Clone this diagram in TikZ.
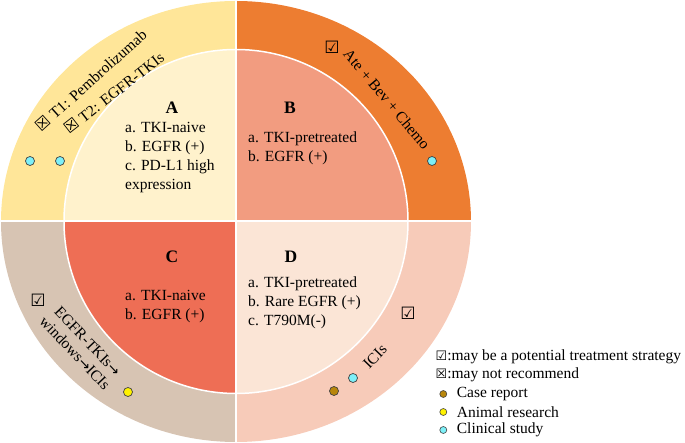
\documentclass[tikz,border=0pt]{standalone}
\usepackage{fontspec}
\setmainfont{Liberation Serif}
\newfontfamily\symfont{DejaVu Sans}
\definecolor{ringA}{HTML}{FFE699}
\definecolor{innA}{HTML}{FFF2CC}
\definecolor{ringB}{HTML}{ED7D31}
\definecolor{innB}{HTML}{F29C80}
\definecolor{ringC}{HTML}{D7C4B3}
\definecolor{innC}{HTML}{EE6E55}
\definecolor{ringD}{HTML}{F7CBB9}
\definecolor{innD}{HTML}{FBE5D6}
\definecolor{dotcyan}{RGB}{125,240,248}
\definecolor{dotyellow}{RGB}{255,242,0}
\definecolor{dotbrown}{RGB}{184,134,11}
\newcommand{\rarr}{{\symfont\fontsize{14}{14}\selectfont →}}
\tikzset{
  txt/.style={font=\fontsize{15.5}{19}\selectfont, inner sep=0pt},
  items/.style={txt, anchor=west, align=left},
  head/.style={font=\fontsize{17.5}{20}\selectfont\bfseries, inner sep=0pt},
  boxsym/.style={font=\symfont\fontsize{17}{17}\selectfont, inner sep=0pt},
  dot/.style={circle, draw=black!75, line width=0.7pt, minimum size=9pt, inner sep=0pt},
  legdot/.style={circle, draw=black!75, line width=0.6pt, minimum size=7pt, inner sep=0pt},
}
\begin{document}
\begin{tikzpicture}[x=1pt,y=1pt]
\useasboundingbox (-236,-221.5) rectangle (449,221.5);
% outer ring quadrants (ellipse)
\fill[ringA] (0,0) -- (0,220.5pt) arc[start angle=90,end angle=180,x radius=235pt,y radius=220.5pt] -- cycle;
\fill[ringB] (0,0) -- (235pt,0) arc[start angle=0,end angle=90,x radius=235pt,y radius=220.5pt] -- cycle;
\fill[ringC] (0,0) -- (-235pt,0) arc[start angle=180,end angle=270,x radius=235pt,y radius=220.5pt] -- cycle;
\fill[ringD] (0,0) -- (0,-220.5pt) arc[start angle=270,end angle=360,x radius=235pt,y radius=220.5pt] -- cycle;
% inner quadrants
\fill[innA] (0,0) -- (0,172pt) arc[start angle=90,end angle=180,radius=172pt] -- cycle;
\fill[innB] (0,0) -- (172pt,0) arc[start angle=0,end angle=90,radius=172pt] -- cycle;
\fill[innC] (0,0) -- (-172pt,0) arc[start angle=180,end angle=270,radius=172pt] -- cycle;
\fill[innD] (0,0) -- (0,-172pt) arc[start angle=270,end angle=360,radius=172pt] -- cycle;
% white separators
\draw[white, line width=1.5pt] (0,0) circle[radius=172pt];
\draw[white, line width=2pt] (-236,0) -- (236,0);
\draw[white, line width=2pt] (0,-222) -- (0,222);
% quadrant A
\node[head] (Ahead) at (-64,113.5) {A};
\node[items] (Atext) at (-111,63.5) {a. TKI-naive\\b. EGFR (+)\\c. PD-L1 high\\expression};
% quadrant B
\node[head] (Bhead) at (54,113.5) {B};
\node[items] (Btext) at (12,73) {a. TKI-pretreated\\b. EGFR (+)};
% quadrant C
\node[head] (Chead) at (-64,-35.5) {C};
\node[items] (Ctext) at (-111,-85.5) {a. TKI-naive\\b. EGFR (+)};
% quadrant D
\node[head] (Dhead) at (55,-35.5) {D};
\node[items] (Dtext) at (12,-81) {a. TKI-pretreated\\b. Rare EGFR (+)\\c. T790M(-)};
% ring A
\node[txt, rotate=42] (A1) at (-145,141.5) {{\symfont\fontsize{16}{16}\selectfont ☒} T1: Pembrolizumab};
\node[txt, rotate=38] (A2) at (-122,129) {{\symfont\fontsize{16}{16}\selectfont ☒} T2: EGFR-TKIs};
\node[dot, fill=dotcyan] (Ad1) at (-206,60.5) {};
\node[dot, fill=dotcyan] (Ad2) at (-176,60.5) {};
% ring B
\node[boxsym] (Bbox) at (96,174.5) {☑};
\node[txt, rotate=-50] (B1) at (151,122) {Ate + Bev + Chemo};
\node[dot, fill=dotcyan] (Bd1) at (196,60.5) {};
% ring C
\node[boxsym] (Cbox) at (-198,-78.5) {☑};
\node[txt, rotate=-46.5, align=center, font=\fontsize{15.5}{17.5}\selectfont] (C1) at (-154.75,-125.65) {EGFR-TKIs\rarr\\windows\rarr ICIs};
\node[dot, fill=dotyellow] (Cd1) at (-108,-170.5) {};
% ring D
\node[boxsym] (Dbox) at (172,-91.5) {☑};
\node[txt, rotate=46] (D1) at (139,-135.2) {ICIs};
\node[dot, fill=dotcyan] (Dd1) at (117,-156.5) {};
\node[dot, fill=dotbrown] (Dd2) at (98,-169.5) {};
% legend
\node[txt, anchor=west] (L1) at (199.5,-135.5) {{\symfont\fontsize{13}{13}\selectfont ☑}:may be a potential treatment strategy};
\node[txt, anchor=west] (L2) at (199.5,-153.5) {{\symfont\fontsize{13}{13}\selectfont ☒}:may not recommend};
\node[legdot, fill=dotbrown] (L3d) at (207.3,-172.5) {};
\node[txt, anchor=west] (L3) at (220.7,-172.5) {Case report};
\node[legdot, fill=dotyellow] (L4d) at (207.3,-190.5) {};
\node[txt, anchor=west] (L4) at (220.7,-190.5) {Animal research};
\node[legdot, fill=dotcyan] (L5d) at (207.3,-208.5) {};
\node[txt, anchor=west] (L5) at (220.7,-208.5) {Clinical study};
\end{tikzpicture}
\end{document}
